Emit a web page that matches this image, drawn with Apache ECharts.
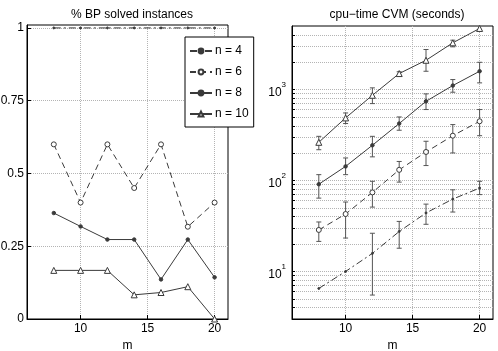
<!DOCTYPE html>
<html>
<head>
<meta charset="utf-8">
<script src="https://cdn.jsdelivr.net/npm/echarts@6/dist/echarts.min.js"></script>
<style>
html, body { margin: 0; padding: 0; background: #fff; }
#chart { width: 498px; height: 351px; }
</style>
</head>
<body>
<div id="chart"></div>
<script>
// problem size m (x axis of both panels)
const m = [8, 10, 12, 14, 16, 18, 20];
const xTicks = [10, 15, 20];

// left panel: fraction of instances solved by BP
const solved4 = [1, 1, 1, 1, 1, 1, 1];
const solved6 = [0.6, 0.4, 0.6, 0.45, 0.6, 0.317, 0.4];
const solved8 = [0.364, 0.318, 0.273, 0.273, 0.136, 0.273, 0.143];
const solved10 = [0.167, 0.167, 0.167, 0.083, 0.091, 0.111, 0];
const leftYTicks = [0, 0.25, 0.5, 0.75, 1];

// right panel: cpu-time CVM, mean and error bar ends
const cpu4 = [6.5, 10, 15.8, 27.5, 44, 62.5, 82.6];
const cpu4Low = [null, null, 5.5, 18, 33, 45, 70];
const cpu4High = [null, null, 26.3, 35.5, 55, 79, 98];
const cpu6 = [28.6, 42.8, 74, 131, 206, 311, 448];
const cpu6Low = [21.4, 23.3, 51, 96, 146, 201, 311];
const cpu6High = [35, 58, 98, 162, 270, 412, 603];
const cpu8 = [91, 143, 244, 423, 743, 1107, 1590];
const cpu8Low = [64, 116, 182, 357, 603, 935, 1185];
const cpu8High = [116, 177, 306, 500, 896, 1288, 1995];
const cpu10 = [263, 488, 865, 1500, 2100, 3265, 4700];
const cpu10Low = [218, 423, 701, 1420, 1590, 2950, null];
const cpu10High = [306, 553, 1044, 1570, 2757, 3490, null];
const logMajor = [10, 100, 1000];
const logMinor = [4, 5, 6, 7, 8, 9, 10, 20, 30, 40, 50, 60, 70, 80, 90,
  100, 200, 300, 400, 500, 600, 700, 800, 900, 1000, 2000, 3000, 4000];

const names = ['n = 4', 'n = 6', 'n = 8', 'n = 10'];
const lineColor = '#3a3a3a';
const gridColor = '#b4b4b4';
const font = 'Liberation Sans, Arial, sans-serif';

const styles = [
  { type: [7, 3, 2, 3], symbol: 'circle', size: 2, fill: lineColor },
  { type: [6, 4], symbol: 'circle', size: 5, fill: '#fff' },
  { type: 'solid', symbol: 'circle', size: 3.5, fill: lineColor },
  { type: 'solid', symbol: 'triangle', size: 6, fill: '#fff' }
];

function pairs(ys) {
  return m.map((x, i) => [x, ys[i]]);
}

function lineSeries(idx, ys, axis) {
  const s = styles[idx];
  return {
    name: names[idx],
    type: 'line',
    xAxisIndex: axis, yAxisIndex: axis,
    data: pairs(ys),
    symbol: s.symbol,
    symbolSize: s.size,
    showAllSymbol: true,
    lineStyle: { color: lineColor, width: 1, type: s.type },
    itemStyle: { color: s.fill, borderColor: lineColor, borderWidth: 1 },
    z: 3
  };
}

function errorBars(low, high) {
  return {
    type: 'custom',
    xAxisIndex: 1, yAxisIndex: 1,
    data: m.map((x, i) => [x, low[i], high[i]]).filter(d => d[1] != null),
    encode: { x: 0, y: [1, 2] },
    silent: true,
    z: 2,
    renderItem: function (params, api) {
      const top = api.coord([api.value(0), api.value(2)]);
      const bot = api.coord([api.value(0), api.value(1)]);
      const hw = 2.5;
      const st = { stroke: '#555', lineWidth: 1 };
      return {
        type: 'group',
        children: [
          { type: 'line', shape: { x1: top[0], y1: top[1], x2: bot[0], y2: bot[1] }, style: st },
          { type: 'line', shape: { x1: top[0] - hw, y1: top[1], x2: top[0] + hw, y2: top[1] }, style: st },
          { type: 'line', shape: { x1: bot[0] - hw, y1: bot[1], x2: bot[0] + hw, y2: bot[1] }, style: st }
        ]
      };
    }
  };
}

function xAxis(idx) {
  return {
    type: 'value', gridIndex: idx, min: 6, max: 21,
    name: 'm', nameLocation: 'middle', nameGap: 20,
    nameTextStyle: { color: '#000', fontSize: 12, fontFamily: font },
    axisLine: { lineStyle: { color: '#000' } },
    axisTick: { inside: true, length: 4, customValues: xTicks, lineStyle: { color: '#000' } },
    axisLabel: { customValues: xTicks, color: '#000', fontSize: 12, fontFamily: font, margin: 4 },
    splitLine: { show: true, lineStyle: { color: gridColor, type: 'dotted' } }
  };
}

const chart = echarts.init(document.getElementById('chart'));
chart.setOption({
  animation: false,
  title: [
    { text: '% BP solved instances', left: 127, top: 4, textAlign: 'center',
      textStyle: { fontSize: 12, fontWeight: 'normal', color: '#000', fontFamily: font } },
    { text: 'cpu\u2212time CVM (seconds)', left: 392, top: 4, textAlign: 'center',
      textStyle: { fontSize: 12, fontWeight: 'normal', color: '#000', fontFamily: font } }
  ],
  grid: [
    { left: 27, right: 270, top: 25, bottom: 32, outerBoundsMode: 'none', containLabel: false,
      show: true, borderColor: '#000', borderWidth: 1 },
    { left: 292, right: 5, top: 26, bottom: 32, outerBoundsMode: 'none', containLabel: false,
      show: true, borderColor: '#000', borderWidth: 1 }
  ],
  legend: {
    data: names,
    orient: 'vertical',
    left: 185, top: 37,
    padding: [8, 5, 7, 4],
    itemWidth: 22, itemHeight: 6, itemGap: 9,
    backgroundColor: '#fff',
    borderColor: '#000', borderWidth: 1, borderRadius: 0,
    textStyle: { color: '#000', fontSize: 12, fontFamily: font, padding: [0, 0, 0, -2] }
  },
  xAxis: [xAxis(0), xAxis(1)],
  yAxis: [
    {
      type: 'value', gridIndex: 0, min: 0, max: 1.01,
      axisLine: { lineStyle: { color: '#000' } },
      axisTick: { inside: true, length: 4, customValues: leftYTicks, lineStyle: { color: '#000' } },
      axisLabel: { customValues: leftYTicks, color: '#000', fontSize: 12, fontFamily: font, margin: 3 },
      splitLine: { show: true, lineStyle: { color: gridColor, type: 'dotted' } }
    },
    {
      type: 'log', logBase: 10, gridIndex: 1, min: 3, max: 5000,
      axisLine: { lineStyle: { color: '#000' } },
      axisTick: { inside: true, length: 3, customValues: logMinor, lineStyle: { color: '#000' } },
      axisLabel: {
        customValues: logMajor, color: '#000', fontSize: 12, fontFamily: font, margin: 6,
        formatter: function (v) {
          return '{b|10}{s|' + Math.round(Math.log10(v)) + '}';
        },
        rich: {
          b: { fontSize: 12, fontFamily: font, color: '#000', verticalAlign: 'bottom', lineHeight: 18 },
          s: { fontSize: 8, fontFamily: font, color: '#000', verticalAlign: 'top', lineHeight: 18 }
        }
      },
      splitLine: { show: true, lineStyle: { color: gridColor, type: 'dotted' } }
    }
  ],
  series: [
    lineSeries(0, solved4, 0),
    lineSeries(1, solved6, 0),
    lineSeries(2, solved8, 0),
    lineSeries(3, solved10, 0),
    errorBars(cpu4Low, cpu4High),
    errorBars(cpu6Low, cpu6High),
    errorBars(cpu8Low, cpu8High),
    errorBars(cpu10Low, cpu10High),
    lineSeries(0, cpu4, 1),
    lineSeries(1, cpu6, 1),
    lineSeries(2, cpu8, 1),
    lineSeries(3, cpu10, 1)
  ]
});
</script>
</body>
</html>
